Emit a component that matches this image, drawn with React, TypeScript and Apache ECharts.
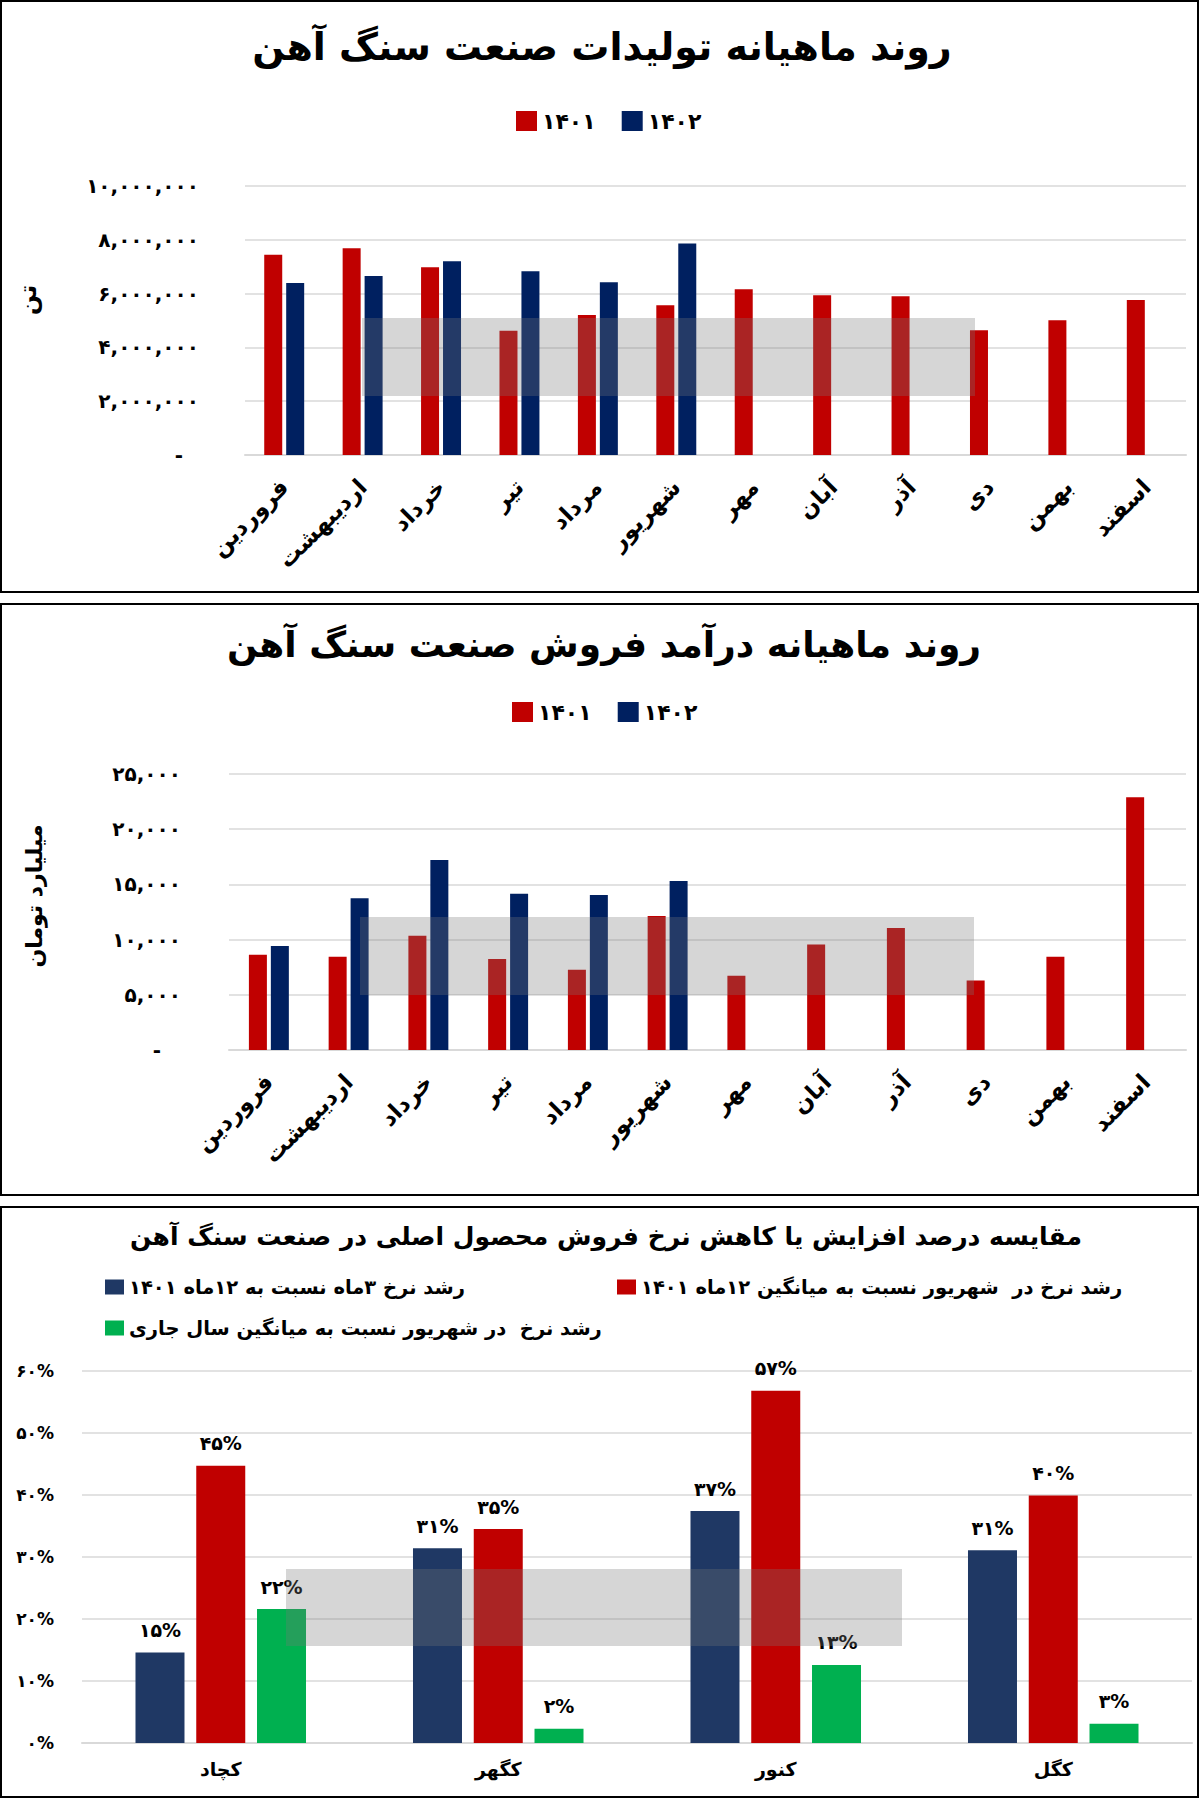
import React, { useEffect, useRef } from 'react';
import * as echarts from 'echarts';

// ---------- data ----------
const months = ['فروردین', 'اردیبهشت', 'خرداد', 'تیر', 'مرداد', 'شهریور', 'مهر', 'آبان', 'آذر', 'دی', 'بهمن', 'اسفند'];
const yearNames = ['۱۴۰۱', '۱۴۰۲'];

// monthly production (tonnes)
const production1401 = [7440000, 7690000, 6980000, 4620000, 5200000, 5570000, 6160000, 5940000, 5900000, 4640000, 5010000, 5760000];
const production1402 = [6390000, 6650000, 7200000, 6830000, 6420000, 7860000, null, null, null, null, null, null];

// monthly sales revenue (billion toman)
const revenue1401 = [8620, 8440, 10360, 8250, 7260, 12140, 6720, 9550, 11060, 6300, 8440, 22900];
const revenue1402 = [9430, 13750, 17200, 14150, 14050, 15310, null, null, null, null, null, null];

// price growth comparison (%)
const companies = ['کچاد', 'کگهر', 'کنور', 'کگل'];
const growthNames = [
  'رشد نرخ ۳ماه نسبت به ۱۲ماه ۱۴۰۱',
  'رشد نرخ در  شهریور نسبت به میانگین ۱۲ماه ۱۴۰۱',
  'رشد نرخ  در شهریور نسبت به میانگین سال جاری',
];
const growth3mVs12m = [14.6, 31.4, 37.4, 31.1];
const growthShahrivarVs12m = [44.7, 34.5, 56.8, 39.9];
const growthShahrivarVsYear = [21.6, 2.3, 12.6, 3.1];

const titles = [
  'روند ماهیانه تولیدات صنعت سنگ آهن',
  'روند ماهیانه درآمد فروش صنعت سنگ آهن',
  'مقایسه درصد افزایش یا کاهش نرخ فروش محصول اصلی در صنعت سنگ آهن',
];
const axisNames = ['تن', 'میلیارد تومان'];

// ---------- helpers ----------
const FONT = '"DejaVu Sans", sans-serif';
const RED = '#C00000';
const NAVY = '#002060';
const NAVY2 = '#1F3864';
const GREEN = '#00B050';
const GRID = '#d9d9d9';

const faDigits = (s: string) => s.replace(/[0-9]/g, (d) => '۰۱۲۳۴۵۶۷۸۹'[+d]);
const fmtNum = (v: number) => faDigits(v.toLocaleString('en-US'));

function watermark(x: number, y: number, w: number, h: number, lx: number, ly: number) {
  return [
    {
      type: 'rect',
      z: 100,
      silent: true,
      shape: { x, y, width: w, height: h },
      style: { fill: 'rgba(120,120,120,0.3)' },
    },
    {
      type: 'group',
      x: lx,
      y: ly,
      rotation: 0.14,
      z: 101,
      silent: true,
      children: [
        {
          type: 'rect',
          shape: { x: -60, y: -11, width: 120, height: 22 },
          style: { fill: 'rgba(255,255,255,0.12)', stroke: 'rgba(255,255,255,0.85)', lineWidth: 1.5 },
        },
        {
          type: 'text',
          style: {
            text: 'روزنامه صبح ایران',
            x: 0,
            y: 0,
            align: 'center',
            verticalAlign: 'middle',
            fill: 'rgba(255,255,255,0.9)',
            fontSize: 13,
            fontFamily: FONT,
          },
        },
      ],
    },
  ];
}

function titleText(text: string, x: number, y: number, size: number) {
  return {
    type: 'text',
    x,
    y,
    style: {
      text,
      align: 'center',
      verticalAlign: 'middle',
      fontSize: size,
      fontWeight: 'bold',
      fontFamily: FONT,
      fill: '#000',
    },
  };
}

function sideName(text: string, x: number, y: number, size: number) {
  return {
    type: 'text',
    x,
    y,
    rotation: Math.PI / 2,
    style: {
      text,
      align: 'center',
      verticalAlign: 'middle',
      fontSize: size,
      fontWeight: 'bold',
      fontFamily: FONT,
      fill: '#000',
    },
  };
}

const border = (y: number, h: number) => ({
  type: 'rect',
  shape: { x: 1, y, width: 1197, height: h },
  style: { fill: 'none', stroke: '#000', lineWidth: 2 },
});

const monthAxisLabel = {
  interval: 0,
  rotate: 45,
  margin: 28,
  fontSize: 23,
  fontWeight: 'bold',
  color: '#000',
  fontFamily: FONT,
};

export default function App() {
  const ref = useRef<HTMLDivElement>(null);

  useEffect(() => {
    if (!ref.current) return;
    const chart = echarts.init(ref.current, undefined, { renderer: 'svg' });

    const legendYear = (left: number, top: number) => ({
      data: yearNames,
      left,
      top,
      padding: 0,
      icon: 'rect',
      itemWidth: 21,
      itemHeight: 20,
      itemGap: 26,
      selectedMode: false,
      textStyle: { fontSize: 22, fontWeight: 'bold', color: '#000', fontFamily: FONT },
    });

    const legendGrowth = (name: string, left: number, top: number) => ({
      data: [name],
      left,
      top,
      padding: 0,
      icon: 'rect',
      itemWidth: 19,
      itemHeight: 15,
      selectedMode: false,
      textStyle: { fontSize: 19.5, fontWeight: 'bold', color: '#000', fontFamily: FONT },
    });

    const option: any = {
      animation: false,
      backgroundColor: '#fff',
      textStyle: { fontFamily: FONT },
      grid: [
        { left: 245, top: 186, width: 941, height: 269 },
        { left: 229, top: 774, width: 957, height: 276 },
        { left: 82, top: 1371, width: 1110, height: 372 },
      ],
      xAxis: [
        {
          type: 'category',
          gridIndex: 0,
          data: months,
          axisLine: { lineStyle: { color: GRID, width: 2 } },
          axisTick: { show: false },
          axisLabel: monthAxisLabel,
        },
        {
          type: 'category',
          gridIndex: 1,
          data: months,
          axisLine: { lineStyle: { color: GRID, width: 2 } },
          axisTick: { show: false },
          axisLabel: monthAxisLabel,
        },
        {
          type: 'category',
          gridIndex: 2,
          data: companies,
          axisLine: { lineStyle: { color: GRID, width: 2 } },
          axisTick: { show: false },
          axisLabel: { interval: 0, margin: 16, fontSize: 19, fontWeight: 'bold', color: '#000', fontFamily: FONT },
        },
      ],
      yAxis: [
        {
          type: 'value',
          gridIndex: 0,
          min: 0,
          max: 10000000,
          interval: 2000000,
          axisLine: { show: false },
          axisTick: { show: false },
          splitLine: { lineStyle: { color: GRID, width: 1.5 } },
          axisLabel: {
            margin: 46,
            fontSize: 20,
            fontWeight: 'bold',
            color: '#000',
            fontFamily: FONT,
            formatter: (v: number) => (v === 0 ? '{d|-}' : fmtNum(v)),
            rich: { d: { padding: [0, 16, 0, 0], fontSize: 20, fontWeight: 'bold', color: '#000' } },
          },
        },
        {
          type: 'value',
          gridIndex: 1,
          min: 0,
          max: 25000,
          interval: 5000,
          axisLine: { show: false },
          axisTick: { show: false },
          splitLine: { lineStyle: { color: GRID, width: 1.5 } },
          axisLabel: {
            margin: 48,
            fontSize: 20,
            fontWeight: 'bold',
            color: '#000',
            fontFamily: FONT,
            formatter: (v: number) => (v === 0 ? '{d|-}' : fmtNum(v)),
            rich: { d: { padding: [0, 20, 0, 0], fontSize: 20, fontWeight: 'bold', color: '#000' } },
          },
        },
        {
          type: 'value',
          gridIndex: 2,
          min: 0,
          max: 60,
          interval: 10,
          axisLine: { show: false },
          axisTick: { show: false },
          splitLine: { lineStyle: { color: GRID, width: 1.5 } },
          axisLabel: {
            margin: 28,
            fontSize: 17,
            fontWeight: 'bold',
            color: '#000',
            fontFamily: FONT,
            formatter: (v: number) => faDigits(String(v)) + '%',
          },
        },
      ],
      legend: [
        legendYear(516, 110),
        legendYear(512, 701),
        legendGrowth(growthNames[0], 105, 1277),
        legendGrowth(growthNames[1], 617, 1277),
        legendGrowth(growthNames[2], 105, 1318),
      ],
      series: [
        {
          name: yearNames[0],
          type: 'bar',
          xAxisIndex: 0,
          yAxisIndex: 0,
          data: production1401,
          barWidth: 18,
          barGap: '22%',
          itemStyle: { color: RED },
        },
        {
          name: yearNames[1],
          type: 'bar',
          xAxisIndex: 0,
          yAxisIndex: 0,
          data: production1402,
          barWidth: 18,
          barGap: '22%',
          itemStyle: { color: NAVY },
        },
        {
          name: yearNames[0],
          type: 'bar',
          xAxisIndex: 1,
          yAxisIndex: 1,
          data: revenue1401,
          barWidth: 18,
          barGap: '22%',
          itemStyle: { color: RED },
        },
        {
          name: yearNames[1],
          type: 'bar',
          xAxisIndex: 1,
          yAxisIndex: 1,
          data: revenue1402,
          barWidth: 18,
          barGap: '22%',
          itemStyle: { color: NAVY },
        },
        ...[
          [growthNames[0], growth3mVs12m, NAVY2],
          [growthNames[1], growthShahrivarVs12m, RED],
          [growthNames[2], growthShahrivarVsYear, GREEN],
        ].map(([name, data, color]) => ({
          name,
          type: 'bar',
          xAxisIndex: 2,
          yAxisIndex: 2,
          data,
          barWidth: 49,
          barGap: '24%',
          itemStyle: { color },
          label: {
            show: true,
            position: 'top',
            distance: 13,
            fontSize: 19,
            fontWeight: 'bold',
            color: '#000',
            fontFamily: FONT,
            formatter: (p: any) => faDigits(String(Math.round(p.value))) + '%',
          },
        })),
      ],
      graphic: [
        border(1, 591),
        border(604, 591),
        border(1207, 590),
        titleText(titles[0], 602, 47, 38),
        titleText(titles[1], 604, 644, 36),
        titleText(titles[2], 606, 1236, 25),
        sideName(axisNames[0], 28, 300, 24),
        sideName(axisNames[1], 34, 896, 22),
        ...watermark(362, 318, 613, 78, 738, 325),
        ...watermark(360, 917, 614, 78, 738, 926),
        ...watermark(286, 1569, 616, 77, 666, 1577),
      ],
    };

    chart.setOption(option);
    return () => chart.dispose();
  }, []);

  return <div ref={ref} style={{ position: 'absolute', left: 0, top: 0, width: 1200, height: 1799 }} />;
}
